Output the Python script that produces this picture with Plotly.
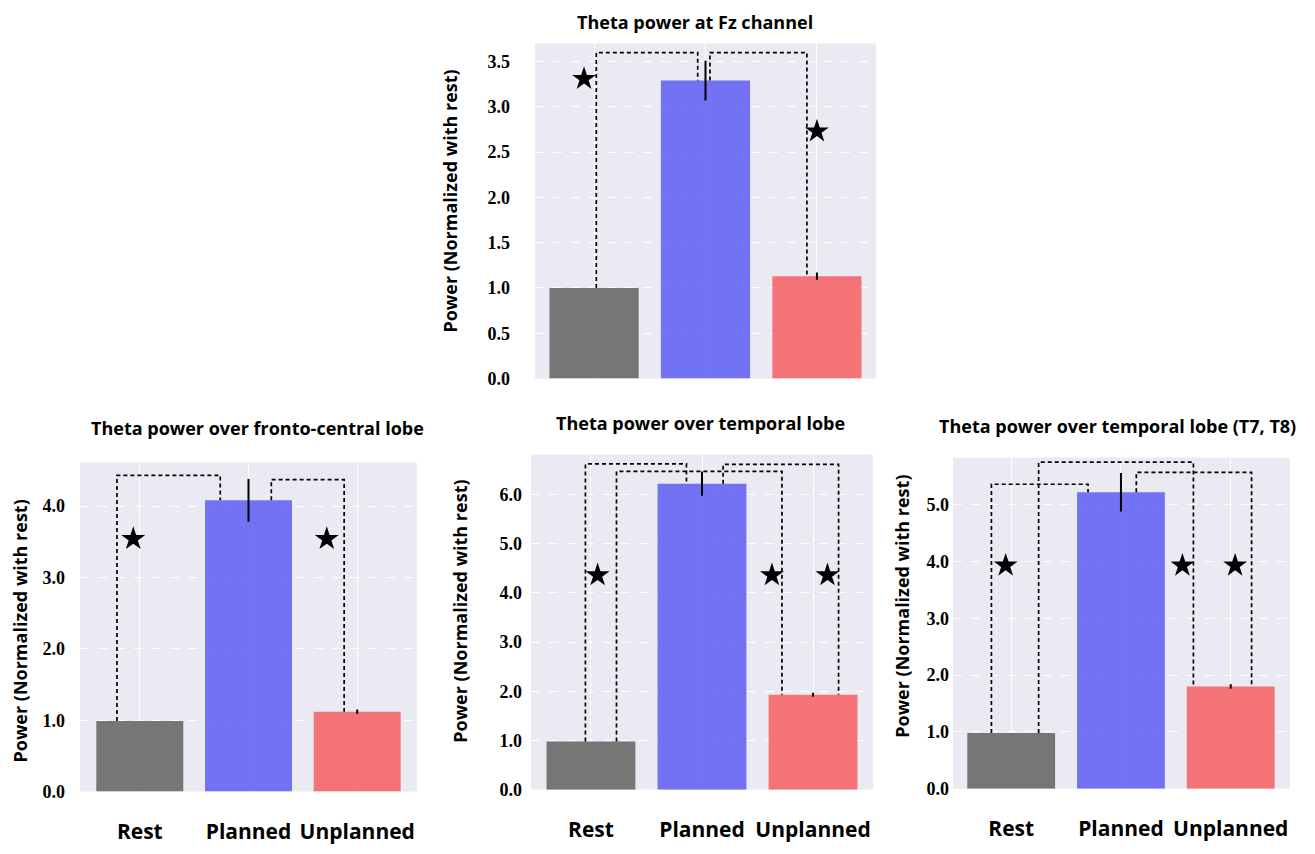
import plotly.graph_objects as go

# ---------------- data ----------------
categories = ["Rest", "Planned", "Unplanned"]

titles = [
    "Theta power at Fz channel",
    "Theta power over fronto-central lobe",
    "Theta power over temporal lobe",
    "Theta power over temporal lobe (T7, T8)",
]
y_title = "Power (Normalized with rest)"

fz_values = [1.0, 3.29, 1.13]
fz_err = [0.0, 0.22, 0.04]
fc_values = [0.99, 4.08, 1.12]
fc_err = [0.0, 0.30, 0.03]
tl_values = [0.98, 6.22, 1.93]
tl_err = [0.0, 0.245, 0.04]
t78_values = [0.98, 5.22, 1.80]
t78_err = [0.0, 0.34, 0.04]

# significance brackets: (left category, left x, right category, right x, top level)
fz_brackets = [(0, 0.02, 1, 0.93, 3.60), (1, 1.04, 2, 1.91, 3.60)]
fc_brackets = [(0, -0.21, 1, 0.74, 4.43), (1, 1.21, 2, 1.88, 4.37)]
tl_brackets = [(0, -0.05, 1, 0.86, 6.62), (0, 0.23, 2, 1.72, 6.47), (1, 1.19, 2, 2.23, 6.61)]
t78_brackets = [(0, -0.18, 1, 0.70, 5.36), (0, 0.25, 2, 1.66, 5.75), (1, 1.14, 2, 2.19, 5.57)]

# significance stars
fz_star_x = [-0.09, 2.0]
fz_star_y = [3.31, 2.73]
fc_star_x = [-0.06, 1.72]
fc_star_y = [3.54, 3.54]
tl_star_x = [0.06, 1.63, 2.13]
tl_star_y = [4.36, 4.36, 4.36]
t78_star_x = [-0.05, 1.56, 2.04]
t78_star_y = [3.93, 3.93, 3.93]

fz_ticks = [0.0, 0.5, 1.0, 1.5, 2.0, 2.5, 3.0, 3.5]
fc_ticks = [0.0, 1.0, 2.0, 3.0, 4.0]
tl_ticks = [0.0, 1.0, 2.0, 3.0, 4.0, 5.0, 6.0]
t78_ticks = [0.0, 1.0, 2.0, 3.0, 4.0, 5.0]

# ---------------- styling / layout ----------------
bar_colors = ["rgb(105,105,105)", "rgb(102,101,244)", "rgb(245,102,104)"]
BG = "#EAEAF2"
W, H = 1315, 854

panels = [
    dict(values=fz_values, err=fz_err, brackets=fz_brackets, sx=fz_star_x, sy=fz_star_y,
         ticks=fz_ticks, yrange=[0, 3.70], xrange=[-0.53, 2.53],
         dom=(535, 876, 44, 383), show_x=False, ystand=24,
         title_pos=(695, 22), ytitle_pos=(450, 204)),
    dict(values=fc_values, err=fc_err, brackets=fc_brackets, sx=fc_star_x, sy=fc_star_y,
         ticks=fc_ticks, yrange=[0, 4.61], xrange=[-0.55, 2.55],
         dom=(80, 417, 468, 801), show_x=True, ystand=14,
         title_pos=(257, 433), ytitle_pos=(20, 639)),
    dict(values=tl_values, err=tl_err, brackets=tl_brackets, sx=tl_star_x, sy=tl_star_y,
         ticks=tl_ticks, yrange=[0, 6.81], xrange=[-0.54, 2.54],
         dom=(531, 873, 460, 799), show_x=True, ystand=8,
         title_pos=(700, 428), ytitle_pos=(460, 619)),
    dict(values=t78_values, err=t78_err, brackets=t78_brackets, sx=t78_star_x, sy=t78_star_y,
         ticks=t78_ticks, yrange=[0, 5.83], xrange=[-0.53, 2.54],
         dom=(953, 1290, 463, 798), show_x=True, ystand=3,
         title_pos=(1117, 431), ytitle_pos=(902, 614)),
]

fig = go.Figure()
annotations = []
layout_axes = {}

for k, p in enumerate(panels):
    n = "" if k == 0 else str(k + 1)
    xa, ya = "x" + n, "y" + n
    x0, x1, y0, y1 = p["dom"]

    fig.add_trace(go.Bar(
        x=[0, 1, 2], y=p["values"], width=0.8,
        marker=dict(color=bar_colors, opacity=0.9, line=dict(width=0)),
        error_y=dict(type="data", array=p["err"], visible=True,
                     color="black", thickness=2, width=0),
        xaxis=xa, yaxis=ya, showlegend=False,
    ))

    for (ci, xl, cj, xr, top) in p["brackets"]:
        fig.add_trace(go.Scatter(
            x=[xl, xl, xr, xr],
            y=[p["values"][ci], top, top, p["values"][cj]],
            mode="lines", line=dict(color="black", width=1.7, dash="4px,3px"),
            xaxis=xa, yaxis=ya, showlegend=False, hoverinfo="skip",
        ))

    fig.add_trace(go.Scatter(
        x=p["sx"], y=p["sy"], mode="markers",
        marker=dict(symbol="star", size=18, color="black", line=dict(width=0)),
        xaxis=xa, yaxis=ya, showlegend=False,
    ))

    layout_axes["xaxis" + n] = dict(
        domain=[x0 / W, x1 / W], anchor=ya, range=p["xrange"],
        tickvals=[0, 1, 2], ticktext=categories if p["show_x"] else ["", "", ""],
        showticklabels=p["show_x"], showgrid=True, gridcolor="white", gridwidth=1,
        zeroline=False, showline=False, ticks="",
        tickfont=dict(family="Open Sans", size=21, color="black", weight="bold"),
        ticklabelstandoff=25,
    )
    layout_axes["yaxis" + n] = dict(
        domain=[(H - y1) / H, (H - y0) / H], anchor=xa, range=p["yrange"],
        tickvals=p["ticks"], tickformat=".1f",
        showgrid=True, gridcolor="white", gridwidth=1, griddash="dash",
        zeroline=False, showline=False, ticks="",
        tickfont=dict(family="Liberation Serif", size=18, color="black", weight="bold"),
        ticklabelstandoff=p["ystand"],
    )

    tx, ty = p["title_pos"]
    annotations.append(dict(
        text=titles[k], x=tx / W, y=(H - ty) / H, xref="paper", yref="paper",
        showarrow=False, xanchor="center", yanchor="middle",
        font=dict(family="Open Sans", size=18, color="black", weight="bold"),
    ))
    yx, yy = p["ytitle_pos"]
    annotations.append(dict(
        text=y_title, x=yx / W, y=(H - yy) / H, xref="paper", yref="paper",
        showarrow=False, xanchor="center", yanchor="middle", textangle=-90,
        font=dict(family="Open Sans", size=18, color="black", weight="bold"),
    ))

fig.update_layout(
    width=W, height=H, margin=dict(l=0, r=0, t=0, b=0),
    paper_bgcolor="white", plot_bgcolor=BG,
    annotations=annotations, bargap=0.2,
    **layout_axes,
)

fig.write_html("out.html")
